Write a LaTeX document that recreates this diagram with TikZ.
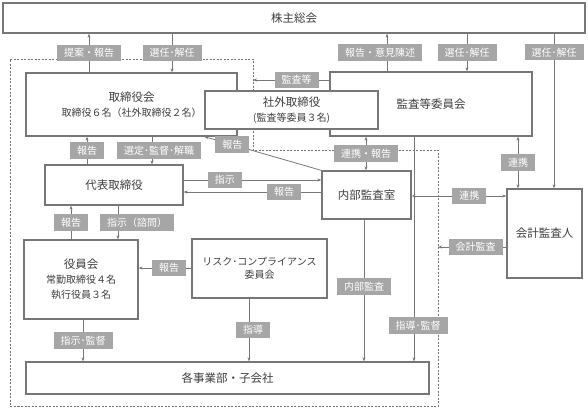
\documentclass[tikz,border=0pt]{standalone}
\usepackage{fontspec}
\setmainfont{Noto Sans CJK JP}
\usetikzlibrary{arrows.meta}
\definecolor{boxline}{HTML}{777777}
\definecolor{tagfill}{HTML}{A6A6A6}
\definecolor{textgray}{HTML}{3F3F3F}

\begin{document}
\begin{tikzpicture}[x=1pt, y=-1pt,
    box/.style={draw=boxline, line width=1.3pt, fill=white, text=textgray, align=center, inner sep=0pt,
      font=\fontsize{11.5}{15}\selectfont},
    tag/.style={fill=tagfill, text=white, inner xsep=7pt, inner ysep=0pt, minimum height=16.5pt,
      font=\fontsize{10}{12}\selectfont},
    link/.style={draw=boxline, line width=0.8pt},
    frame/.style={draw=boxline, line width=0.8pt, dash pattern=on 2pt off 1.5pt},
    >={Stealth[length=4pt,width=3pt]}]
  \useasboundingbox (0,0) rectangle (588,408);

  % dashed frame round the executive side
  \coordinate (frameA) at (253,80);
  \coordinate (frameB) at (438,247);
  \draw[frame] (10,59) -- (253,59) -- (253,150) -- (438,150) -- (438,406) -- (10,406) -- cycle;

  \node[box, minimum width=582pt, minimum height=30pt] (meeting) at (294,18) {株主総会};
  \node[box, minimum width=211pt, minimum height=63pt] (board) at (131.5,104.5)
    {取締役会\\\fontsize{10}{15}\selectfont 取締役６名（社外取締役２名）};
  \node[box, minimum width=202pt, minimum height=64pt] (auditcom) at (431,104) {監査等委員会};
  \node[box, minimum width=173pt, minimum height=38pt] (outside) at (291.5,110)
    {社外取締役\\\fontsize{10}{14}\selectfont (監査等委員３名)};
  \node[box, minimum width=138pt, minimum height=40pt] (rep) at (114,185) {代表取締役};
  \node[box, minimum width=89pt, minimum height=48pt] (internal) at (366.5,195) {内部監査室};
  \node[box, minimum width=75pt, minimum height=89pt] (accountant) at (544.5,233.5) {会計監査人};
  \node[box, minimum width=114pt, minimum height=79pt] (officers) at (81,279.5)
    {役員会\\\fontsize{10}{13.5}\selectfont 常勤取締役４名\\\fontsize{10}{13.5}\selectfont 執行役員３名};
  \node[box, minimum width=135pt, minimum height=59pt, font=\fontsize{10}{12.5}\selectfont] (risk) at (259.5,268.5)
    {リスク･コンプライアンス\\委員会};
  \node[box, minimum width=403pt, minimum height=32pt] (divisions) at (227.5,378) {各事業部・子会社};

  \draw[link,->] (board.north -| 89,0) to node[tag] {提案・報告} (meeting.south -| 89,0);
  \draw[link,->] (meeting.south -| 172,0) to node[tag] {選任･解任} (board.north -| 172,0);
  \draw[link,->] (auditcom.north -| 387,0) to node[tag, xshift=-7pt] {報告・意見陳述} (meeting.south -| 387,0);
  \draw[link,->] (meeting.south -| 467,0) to node[tag] {選任･解任} (auditcom.north -| 467,0);
  \draw[link,->] (meeting.south -| 554,0) to node[tag, pos=0.12] {選任･解任} (accountant.north -| 554,0);
  \draw[link,->] (auditcom.west |- 0,80) to node[tag, pos=0.43] {監査等} (frameA);

  \draw[link,->] (rep.north -| 87,0) to node[tag] {報告} (board.south -| 87,0);
  \draw[link,->] (board.south -| 152,0) to node[tag, xshift=7pt] {選定･監督･解職} (rep.north -| 152,0);
  \draw[link,->] (internal.north west) to node[tag, pos=0.76] {報告} (board.south -| outside.west);
  \draw[link,->] (rep.east |- 0,180) to node[tag, pos=0.3] {指示} (internal.west |- 0,180);
  \draw[link,->] (internal.west |- 0,192) to node[tag, pos=0.27] {報告} (rep.east |- 0,192);
  \draw[link,<->] (auditcom.south -| 366,0) to node[tag] {連携・報告} (internal.north -| 366,0);
  \draw[link,<->] (auditcom.south -| 518,0) to node[tag] {連携} (accountant.north -| 518,0);
  \draw[link,->] (auditcom.south -| 414,0) to node[tag, pos=0.84, xshift=4pt] {指導･監督} (divisions.north -| 414,0);
  \draw[link,<->] (internal.east |- 0,196) to node[tag, pos=0.61] {連携} (accountant.west |- 0,196);
  \draw[link,->] (accountant.west |- 0,247) to node[tag, pos=0.45] {会計監査} (frameB);

  \draw[link,->] (officers.north -| 71,0) to node[tag] {報告} (rep.south -| 71,0);
  \draw[link,->] (rep.south -| 118,0) to node[tag, xshift=19pt] {指示（諮問）} (officers.north -| 118,0);
  \draw[link,->] (risk.west |- 0,268) to node[tag, pos=0.42] {報告} (officers.east |- 0,268);
  \draw[link,->] (officers.south -| 83,0) to node[tag] {指示･監督} (divisions.north -| 83,0);
  \draw[link,->] (risk.south -| 249,0) to node[tag, xshift=4pt] {指導} (divisions.north -| 249,0);
  \draw[link,->] (internal.south -| 364,0) to node[tag, pos=0.47] {内部監査} (divisions.north -| 364,0);
\end{tikzpicture}
\end{document}
